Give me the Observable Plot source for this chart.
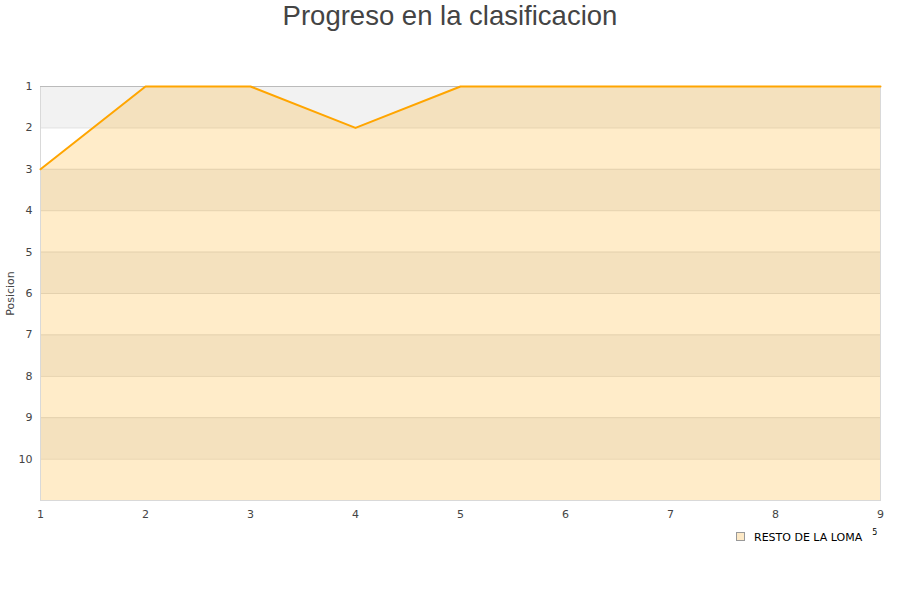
<!DOCTYPE html>
<html>
<head>
<meta charset="utf-8">
<script src="https://cdn.jsdelivr.net/npm/d3@7"></script>
<script src="https://cdn.jsdelivr.net/npm/@observablehq/plot@0.6"></script>
<style>
  body { margin: 0; background: #fff; }
  #wrap { position: relative; width: 900px; height: 600px; font-family: "DejaVu Sans", sans-serif; }
  #title { position: absolute; left: 0; top: 0; width: 900px; text-align: center; font-family: "Liberation Sans", Arial, sans-serif; font-size: 27.5px; color: #444; line-height: 32px; }
  #chart { position: absolute; left: 0; top: 40px; }
  #legend { position: absolute; left: 736px; top: 529px; font-size: 11px; color: #000; white-space: nowrap; }
  #legend .sw { display: inline-block; width: 7px; height: 7px; background: #fde9c6; border: 1px solid #999; vertical-align: middle; margin-right: 9px; position: relative; top: -1px; }
  #legend sup { font-size: 8px; margin-left: 10px; position: relative; top: -1px; }
</style>
</head>
<body>
<div id="wrap">
  <div id="title">Progreso en la clasificacion</div>
  <div id="chart"></div>
  <div id="legend"><span class="sw"></span>RESTO DE LA LOMA<sup>5</sup></div>
</div>
<script>
const jornadas = [1, 2, 3, 4, 5, 6, 7, 8, 9];
const posiciones = [3, 1, 1, 2, 1, 1, 1, 1, 1];
const yTicks = [1, 2, 3, 4, 5, 6, 7, 8, 9, 10];
const bandStarts = [1, 2, 3, 4, 5, 6, 7, 8, 9, 10];
const seriesName = "RESTO DE LA LOMA";

const data = jornadas.map((j, i) => ({jornada: j, pos: posiciones[i]}));
const bands = bandStarts.map(b => ({y1: b, y2: b + 1, odd: b % 2 === 1}));

const chart = Plot.plot({
  width: 900,
  height: 490,
  marginTop: 46,
  marginBottom: 30,
  marginLeft: 40,
  marginRight: 20,
  style: {fontFamily: "DejaVu Sans, sans-serif", fontSize: "11px", color: "#444", background: "transparent"},
  x: {domain: [1, 9], ticks: jornadas, tickFormat: d => d, label: null},
  y: {domain: [11, 1], ticks: yTicks, tickFormat: d => d, label: "Posicion"},
  marks: [
    Plot.rect(bands, {x1: 1, x2: 9, y1: "y1", y2: "y2", fill: d => d.odd ? "#f2f2f2" : "#ffffff"}),
    Plot.ruleY(yTicks, {stroke: "#dddddd", strokeWidth: 1}),
    Plot.areaY(data, {x: "jornada", y1: 11, y2: "pos", fill: "#ffa500", fillOpacity: 0.21}),
    Plot.frame({stroke: "#d9d9d9"}),
    Plot.ruleY([1], {stroke: "#bbbbbb"}),
    Plot.lineY(data, {x: "jornada", y: "pos", stroke: "#ffa500", strokeWidth: 2}),
    Plot.axisY({ticks: yTicks, tickSize: 0, tickPadding: 8, label: "Posicion", labelAnchor: "center", labelOffset: 34, labelArrow: "none", fill: "#444"}),
    Plot.axisX({ticks: jornadas, tickSize: 0, tickPadding: 10, label: null, fill: "#444"})
  ]
});
document.getElementById("chart").appendChild(chart);
</script>
</body>
</html>
